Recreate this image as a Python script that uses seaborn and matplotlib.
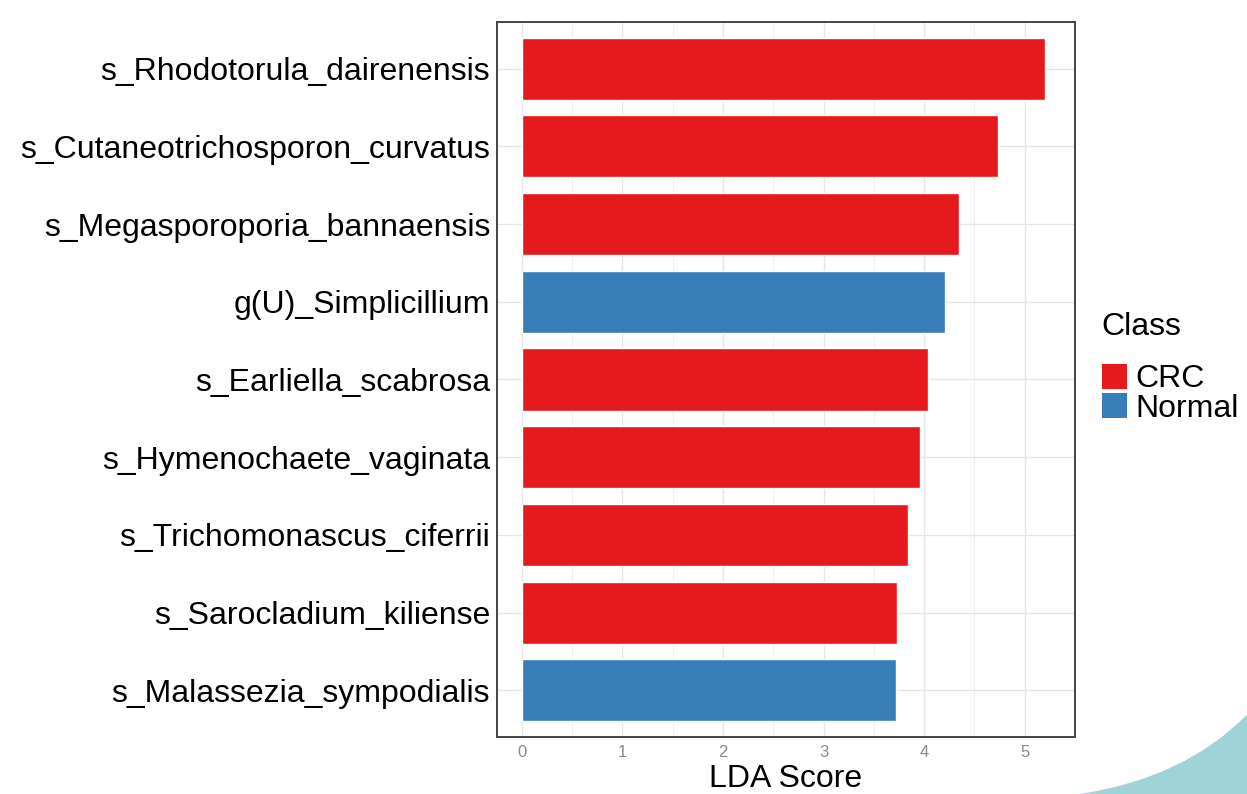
import matplotlib
matplotlib.use("Agg")
import matplotlib.pyplot as plt
from matplotlib.patches import Patch, PathPatch
from matplotlib.path import Path
import seaborn as sns
import pandas as pd

# LEfSe results: taxa, LDA scores and enriched class
taxa = [
    "s_Rhodotorula_dairenensis",
    "s_Cutaneotrichosporon_curvatus",
    "s_Megasporoporia_bannaensis",
    "g(U)_Simplicillium",
    "s_Earliella_scabrosa",
    "s_Hymenochaete_vaginata",
    "s_Trichomonascus_ciferrii",
    "s_Sarocladium_kiliense",
    "s_Malassezia_sympodialis",
]
lda_scores = [5.20, 4.73, 4.35, 4.21, 4.04, 3.96, 3.84, 3.73, 3.72]
enriched_in = ["CRC", "CRC", "CRC", "Normal", "CRC", "CRC", "CRC", "CRC", "Normal"]
class_levels = ["CRC", "Normal"]
class_colors = {"CRC": "#E41A1C", "Normal": "#377EB8"}
x_ticks = [0, 1, 2, 3, 4, 5]

df = pd.DataFrame({"Taxon": taxa, "LDA": lda_scores, "Class": enriched_in})

sns.set_theme(style="white")
plt.rcParams["font.family"] = ["Liberation Sans", "DejaVu Sans"]
plt.rcParams["text.color"] = "black"

fig = plt.figure(figsize=(12.47, 7.94), dpi=100)
ax = fig.add_axes([0.3986, 0.0718, 0.4635, 0.9005])

sns.barplot(data=df, x="LDA", y="Taxon", hue="Class", hue_order=class_levels,
            palette=class_colors, dodge=False, width=0.8, legend=False,
            saturation=1, ax=ax, zorder=3)

# ggplot-like expanded limits
ax.set_xlim(-0.245, 5.46)
ax.set_ylim(len(taxa) - 0.4, -0.6)

# grid: majors and minors
ax.set_xticks(x_ticks)
ax.set_xticks([t + 0.5 for t in x_ticks], minor=True)
ax.grid(True, which="major", axis="both", color="#e6e6e6", linewidth=1.0, zorder=0)
ax.grid(True, which="minor", axis="x", color="#f0f0f0", linewidth=0.8, zorder=0)
ax.set_axisbelow(True)

for s in ax.spines.values():
    s.set_color("#444444")
    s.set_linewidth(1.4)

ax.tick_params(axis="x", which="major", length=4, width=1, color="#555555",
               labelsize=12, labelcolor="#8a8a8a", pad=1.5)
ax.tick_params(axis="x", which="minor", length=0)
ax.tick_params(axis="y", length=4, width=1, color="#555555",
               labelsize=23, labelcolor="black", pad=1)
ax.set_ylabel("")
ax.set_xlabel("LDA Score", fontsize=23, color="black", labelpad=3)

# legend: title drawn separately, keys stacked without gaps
fig.text(0.8835, 0.588, "Class", fontsize=23, color="black", ha="left", va="center")
handles = [Patch(facecolor=class_colors[c], edgecolor="none", label=c) for c in class_levels]
leg = fig.legend(handles=handles, loc="upper left",
                 bbox_to_anchor=(0.8835, 0.542), frameon=False, fontsize=23,
                 handlelength=0.8, handleheight=0.85,
                 handletextpad=0.25, labelspacing=-0.05, borderaxespad=0,
                 borderpad=0, labelcolor="black")

# decorative curved shape in the lower right corner
verts = [(0.866, 0.0), (0.95, 0.02), (1.0, 0.10), (1.0, 0.0), (0.866, 0.0)]
codes = [Path.MOVETO, Path.CURVE3, Path.CURVE3, Path.LINETO, Path.CLOSEPOLY]
fig.patches.append(PathPatch(Path(verts, codes), transform=fig.transFigure,
                             facecolor="#9fd3d8", edgecolor="none", zorder=-1))

fig.savefig("out.png", dpi=100)
